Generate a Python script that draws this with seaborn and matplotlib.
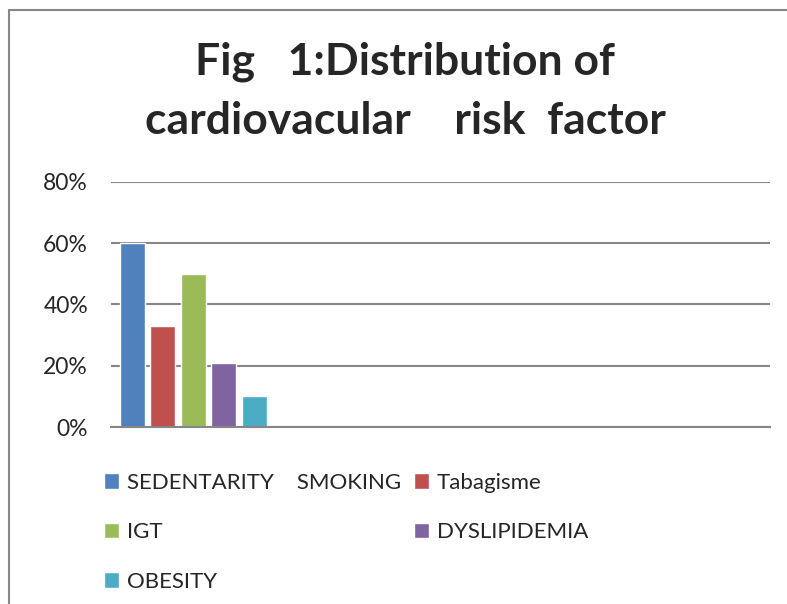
import pandas as pd
import matplotlib.pyplot as plt
import seaborn as sns
from matplotlib.ticker import PercentFormatter
from matplotlib.lines import Line2D

# dati
serie = ["SEDENTARITY    SMOKING", "Tabagisme", "IGT", "DYSLIPIDEMIA", "OBESITY"]
valori = [0.60, 0.33, 0.50, 0.21, 0.10]
categorie = ["1", "2", "3", "4"]
colori = ["#4F81BD", "#C0504D", "#9BBB59", "#8064A2", "#4BACC6"]

df = pd.DataFrame({"cat": [categorie[0]] * len(serie), "serie": serie, "valore": valori})

sns.set_style("white")
plt.rcParams["font.family"] = ["Lato", "DejaVu Sans"]

fig = plt.figure(figsize=(7.87, 6.04), dpi=100)
ax = fig.add_axes([0.141, 0.293, 0.837, 0.406])

sns.barplot(data=df, x="cat", y="valore", hue="serie", order=categorie,
            hue_order=serie, palette=colori, width=0.926, gap=0.18,
            saturation=1, ax=ax)

ax.set_ylim(0, 0.8)
ax.set_yticks([0, 0.2, 0.4, 0.6, 0.8])
ax.yaxis.set_major_formatter(PercentFormatter(1, decimals=0))
ax.set_xticks([])
ax.set_xlabel("")
ax.set_ylabel("")
ax.tick_params(axis="y", labelsize=16.5, length=0, pad=16.5)
ax.grid(axis="y", color="#868686", linewidth=1.5)
ax.set_axisbelow(True)
for s in ["left", "right", "top"]:
    ax.spines[s].set_visible(False)
ax.spines["bottom"].set_color("#868686")
ax.spines["bottom"].set_linewidth(1.5)

handles, labels = ax.get_legend_handles_labels()
ax.get_legend().remove()
ordine = [0, 2, 4, 1, 3]
fig.legend([handles[i] for i in ordine], [labels[i] for i in ordine],
           ncol=2, loc="upper left", bbox_to_anchor=(0.132, 0.217),
           frameon=False, fontsize=16, handlelength=0.7, handleheight=0.7,
           handletextpad=0.35, labelspacing=1.32, columnspacing=0.55,
           borderpad=0, borderaxespad=0)

fig.text(0.515, 0.849, "Fig   1:Distribution of\ncardiovacular    risk  factor",
         ha="center", va="center", fontsize=32, fontweight="bold",
         linespacing=1.55)

# cornice del grafico
fig.add_artist(Line2D([0.0115, 0.0115], [0, 0.983], color="#888888", lw=1.5))
fig.add_artist(Line2D([0.0115, 1], [0.983, 0.983], color="#888888", lw=1.5))

plt.savefig("out.png", dpi=100)
